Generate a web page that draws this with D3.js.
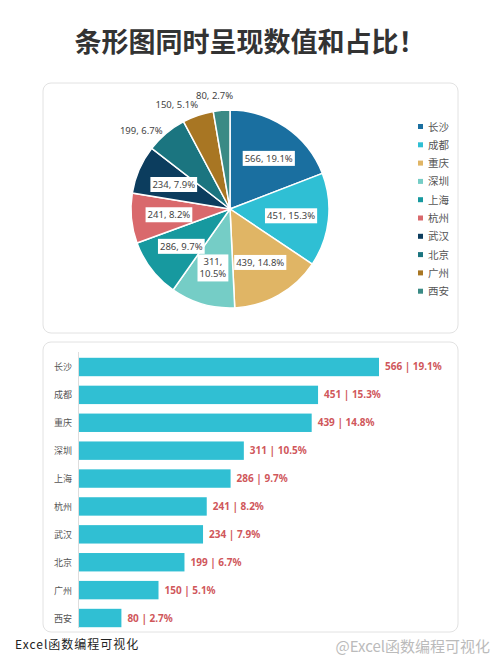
<!DOCTYPE html><html><head><meta charset="utf-8"><script src="https://cdn.jsdelivr.net/npm/d3@7"></script>
<style>body{margin:0;background:#fff}svg{font-family:"Noto Sans CJK SC","Noto Sans",sans-serif}</style></head><body>
<svg id="c" width="500" height="667"></svg>
<script>
const cities=["长沙","成都","重庆","深圳","上海","杭州","武汉","北京","广州","西安"];
const values=[566,451,439,311,286,241,234,199,150,80];
const pcts=["19.1%","15.3%","14.8%","10.5%","9.7%","8.2%","7.9%","6.7%","5.1%","2.7%"];
const colors=["#1a6fa0","#2fbfd4","#e0b565","#75cdc6","#17999f","#d9696c","#0c3d5e","#1b7580","#a87623","#3a8a85"];
const svg=d3.select("#c");
svg.append("text").attr("x",250).attr("y",52).attr("text-anchor","middle").attr("font-size",27).attr("font-weight","bold").attr("fill","#333").text("条形图同时呈现数值和占比！");
[[43,83,415,250],[43,342,415,290]].forEach(p=>svg.append("rect").attr("x",p[0]).attr("y",p[1]).attr("width",p[2]).attr("height",p[3]).attr("rx",8).attr("fill","#fff").attr("stroke","#e2e2e2"));
const cx=230,cy=209,R=99;
const g=svg.append("g").attr("transform",`translate(${cx},${cy})`);
const arcs=d3.pie().sort(null)(values);
const arc=d3.arc().innerRadius(0).outerRadius(R);
g.selectAll("path").data(arcs).join("path").attr("d",arc).attr("fill",(d,i)=>colors[i]).attr("stroke","#fff").attr("stroke-width",1.5);
const inArc=d3.arc().innerRadius(R*0.62).outerRadius(R*0.62);
const outArc=d3.arc().innerRadius(R*1.12).outerRadius(R*1.12);
arcs.forEach((d,i)=>{
  const outside=i>=7;
  let [x,y]=(outside?outArc:inArc).centroid(d);
  let anchor="middle";
  if(i===0){x+=4;}
  if(i===7||i===8){anchor="end";x+=4;}
  if(i===7){y+=6;}
  if(i===9){y-=3;x-=6;}
  const lines=i===3?[values[i]+",",pcts[i]]:[values[i]+", "+pcts[i]];
  const t=g.append("text").attr("font-size",9.5).attr("fill","#444").attr("text-anchor",anchor).attr("font-family","Noto Sans");
  lines.forEach((l,k)=>t.append("tspan").attr("x",x).attr("y",y+3.5+(k-(lines.length-1)/2)*12).text(l));
  if(!outside){const b=t.node().getBBox();g.insert("rect","text").attr("x",b.x-2).attr("y",b.y-1).attr("width",b.width+4).attr("height",b.height+2).attr("fill","#fff");}
});
cities.forEach((c,i)=>{const y=127+i*18.3;
 svg.append("rect").attr("x",418).attr("y",y-3).attr("width",5).attr("height",5).attr("fill",colors[i]);
 svg.append("text").attr("x",428).attr("y",y+3.5).attr("font-size",10.5).attr("fill","#555").text(c);});
const x=d3.scaleLinear().domain([0,566]).range([79,379]);
const y=d3.scaleBand().domain(cities).range([355,630]).paddingInner(0.34).paddingOuter(0.1);
svg.append("line").attr("x1",78.5).attr("x2",78.5).attr("y1",352).attr("y2",628).attr("stroke","#ddd");
svg.selectAll(".bar").data(values).join("rect").attr("x",79).attr("y",(d,i)=>y(cities[i])).attr("width",d=>x(d)-79).attr("height",y.bandwidth()).attr("fill","#30bfd3");
cities.forEach((c,i)=>{const yy=y(c)+y.bandwidth()/2;
 svg.append("text").attr("x",54).attr("y",yy+3.5).attr("font-size",9).attr("fill","#555").text(c);
 svg.append("text").attr("x",x(values[i])+6).attr("y",yy+3.5).attr("font-size",10).attr("font-weight","bold").attr("fill","#d0575b").attr("font-family","Noto Sans").text(values[i]+" | "+pcts[i]);});
svg.append("text").attr("x",15).attr("y",649).attr("font-size",12).attr("fill","#222").attr("letter-spacing",1).text("Excel函数编程可视化");
svg.append("text").attr("x",490).attr("y",652).attr("text-anchor","end").attr("font-size",15).attr("fill","#bbb").text("@Excel函数编程可视化");
</script></body></html>
